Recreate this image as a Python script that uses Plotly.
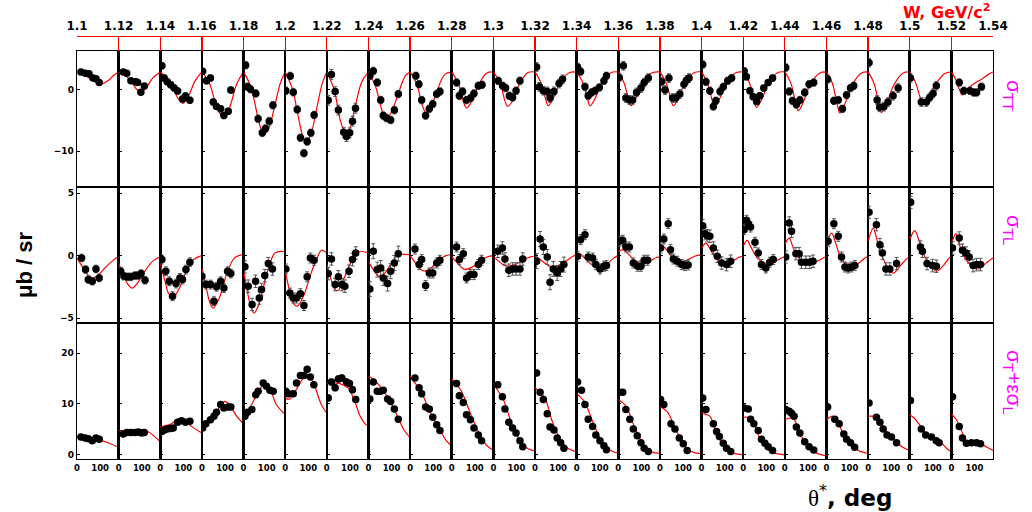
import plotly.graph_objects as go

# ---------------- data ----------------
W_TICKS = [1.10, 1.12, 1.14, 1.16, 1.18, 1.20, 1.22, 1.24, 1.26, 1.28, 1.30, 1.32,
           1.34, 1.36, 1.38, 1.40, 1.42, 1.44, 1.46, 1.48, 1.50, 1.52, 1.54]
W_LABELS = ["1.1", "1.12", "1.14", "1.16", "1.18", "1.2", "1.22", "1.24", "1.26", "1.28", "1.3", "1.32",
            "1.34", "1.36", "1.38", "1.4", "1.42", "1.44", "1.46", "1.48", "1.5", "1.52", "1.54"]

THETA_TICKS = [0, 100]
THETA_LABELS = ["0", "100"]

ROW_LABELS = ["σ<sub>TT</sub>", "σ<sub>TL</sub>", "σ<sub>T</sub>+εσ<sub>L</sub>"]
ROW_RANGES = [[-15.8, 6.3], [-5.4, 5.5], [-0.8, 25.9]]
ROW_TICKS = [[-10, 0], [-5, 0, 5], [0, 10, 20]]

# sigma_TT data points
TT_TH = [[17, 36, 52, 69, 82, 96], [20, 35, 53, 75, 82, 96, 111], [7, 17, 30, 45, 60, 75, 96, 109, 128],
         [3, 20, 37, 49, 63, 81, 95, 114, 125], [9, 17, 30, 53, 63, 81, 95, 111, 127],
         [3, 22, 35, 52, 66, 81, 95, 111, 125], [6, 20, 36, 50, 73, 85, 99, 111, 124],
         [6, 21, 38, 53, 64, 78, 96, 112, 129], [25, 38, 50, 67, 83, 98, 115, 129],
         [21, 33, 47, 64, 82, 96, 115, 131], [21, 40, 53, 69, 83, 98, 115],
         [7, 19, 36, 53, 65, 82, 104, 119], [4, 17, 36, 50, 65, 79, 98, 118, 129],
         [4, 22, 33, 48, 62, 79, 98, 112, 130], [7, 22, 39, 55, 69, 86, 104, 115, 126],
         [5, 19, 36, 51, 62, 80, 94, 113, 130], [4, 14, 29, 43, 58, 72, 89, 108, 127],
         [4, 19, 33, 50, 65, 86, 105, 125], [5, 32, 51, 69, 87, 104, 118],
         [4, 39, 50, 68, 86, 108, 130], [3, 50, 72, 86, 101, 115], [34, 54, 80, 97, 109, 130]]
TT_V = [[2.9, 2.7, 2.6, 1.9, 1.8, 1.2], [2.9, 2.7, 1.45, 1.3, 1.2, -0.4, 0.6],
        [3.9, 1.9, 1.3, 0.8, 0.3, -0.2, -1.5, -1.0, -1.7],
        [3.0, 1.45, 1.9, -2.0, -2.7, -3.1, -4.2, -3.5, -0.05],
        [4.0, 0.5, 0.1, -0.6, -4.7, -7.0, -6.3, -5.1, -2.5],
        [-0.15, 2.25, -0.4, -3.2, -7.8, -10.3, -8.4, -7.0, -4.1],
        [-1.7, 2.5, -0.3, -3.3, -6.9, -7.6, -7.0, -5.1, -3.0],
        [2.26, 3.06, 1.18, -1.67, -4.2, -4.6, -4.9, -3.3, -0.7],
        [2.26, 0.9, -1.67, -4.2, -3.1, -2.3, -0.7, -0.27],
        [1.18, -0.97, -0.27, -1.67, -1.34, -0.6, 0.65, 0.8],
        [1.45, 0.65, 0.27, -0.97, -1.24, -0.16, 1.45],
        [3.7, 0.48, -0.16, -0.27, -1.34, -0.27, 1.0, 1.7],
        [3.7, 2.96, 0.48, -0.97, -0.43, -0.16, 0.38, 1.45, 2.26],
        [2.0, 3.9, -1.34, -1.67, -1.67, -0.43, 0.27, 1.18, 1.9],
        [1.3, -0.05, 1.9, -1.34, -1.34, -0.7, 0.9, 1.56, 1.9],
        [4.1, 1.3, -0.16, -2.7, -1.8, -0.27, 0.48, 1.45, 1.9],
        [3.06, 2.1, -0.16, -1.13, -1.9, -0.97, 0.27, 1.18, 1.9],
        [3.6, -0.27, -1.8, -2.4, -1.67, -0.43, 0.9, 1.18],
        [1.7, -1.8, -1.67, -3.1, -0.86, 0.27, 0.65],
        [4.4, -1.67, -2.85, -2.74, -2.0, -0.97, 0.27],
        [1.9, -2.0, -2.0, -1.24, -0.6, 0.65],
        [1.18, -0.16, -0.16, -0.43, -0.43, 0.48]]
TT_E = [0.4, 0.4, 0.5, 0.5, 0.6, 0.6, 0.8, 0.6, 0.6, 0.6, 0.6, 0.7, 0.6, 0.7, 0.7, 0.6, 0.5, 0.6, 0.6, 0.7, 0.7, 0.6]

# sigma_TT model curves
TT_CTH = [[0, 30, 60, 90, 110, 135, 160, 180], [0, 30, 60, 80, 98, 120, 150, 180],
          [0, 30, 60, 80, 98, 120, 150, 180], [0, 30, 60, 80, 96, 120, 150, 180],
          [0, 30, 60, 75, 91, 110, 135, 160, 180], [0, 30, 60, 75, 91, 110, 135, 160, 180],
          [0, 30, 60, 75, 85, 100, 125, 150, 180], [0, 30, 60, 79, 100, 130, 160, 180],
          [0, 30, 50, 69, 90, 120, 150, 180], [0, 30, 50, 64, 85, 115, 150, 180],
          [0, 30, 50, 62, 85, 115, 150, 180], [0, 25, 45, 57, 80, 110, 150, 180],
          [0, 25, 45, 58, 80, 110, 150, 180], [0, 25, 45, 55, 80, 110, 150, 180],
          [0, 25, 45, 58, 80, 110, 150, 180], [0, 25, 45, 55, 80, 110, 150, 180],
          [0, 25, 45, 58, 80, 110, 150, 180], [0, 25, 45, 58, 80, 110, 150, 180],
          [0, 25, 45, 58, 80, 110, 150, 180], [0, 25, 45, 58, 80, 110, 150, 180],
          [0, 25, 45, 55, 80, 110, 150, 180], [0, 20, 35, 48, 70, 94, 130, 160, 180]]
TT_CV = [[2.9, 2.5, 1.7, 1.1, 1.0, 1.5, 2.4, 2.9], [2.9, 2.3, 1.0, 0.0, -0.4, 0.4, 2.0, 2.9],
         [2.9, 1.9, -0.2, -1.6, -2.2, -1.2, 1.4, 2.9], [2.9, 1.3, -2.3, -4.0, -4.6, -2.9, 0.9, 2.9],
         [2.9, 0.6, -4.1, -6.3, -7.2, -6.2, -2.6, 1.2, 2.9], [2.9, 0.3, -5.0, -7.4, -8.5, -7.4, -3.3, 1.0, 2.9],
         [2.9, 0.2, -5.2, -6.7, -7.0, -6.2, -2.4, 1.2, 2.9], [2.9, 0.6, -3.5, -4.6, -3.6, -0.5, 2.3, 2.9],
         [2.9, 0.8, -2.2, -3.7, -2.8, 0.2, 2.5, 2.9], [2.9, 0.9, -1.9, -2.95, -2.0, 0.7, 2.7, 2.9],
         [2.9, 1.0, -1.8, -2.7, -1.7, 1.1, 2.8, 2.9], [2.9, 1.2, -1.4, -2.6, -1.3, 1.3, 2.8, 2.9],
         [2.9, 1.3, -1.2, -2.6, -1.4, 1.2, 2.8, 2.9], [2.9, 1.1, -1.6, -2.6, -1.1, 1.4, 2.8, 2.9],
         [2.9, 1.3, -1.2, -2.6, -1.4, 1.2, 2.8, 2.9], [2.9, 1.1, -1.6, -2.7, -1.3, 1.3, 2.8, 2.9],
         [2.9, 1.3, -1.3, -2.85, -1.6, 1.1, 2.8, 2.9], [2.9, 1.2, -1.8, -3.4, -2.0, 0.9, 2.7, 2.9],
         [2.9, 1.1, -2.1, -3.8, -2.3, 0.7, 2.7, 2.9], [2.9, 1.1, -2.0, -3.7, -2.3, 0.7, 2.7, 2.9],
         [2.9, 1.2, -1.2, -1.9, -1.1, 0.8, 2.6, 2.9], [2.9, 1.6, 0.0, -0.85, 0.1, 0.9, 1.7, 2.5, 2.9]]

# sigma_TL data points
TL_TH = [[20, 37, 49, 66, 82, 96], [9, 23, 39, 53, 71, 85, 97, 114], [7, 24, 39, 53, 68, 85, 96, 111, 128],
         [0, 17, 37, 52, 63, 81, 95, 111, 125], [6, 20, 37, 52, 68, 78, 92, 107, 125],
         [3, 20, 35, 49, 66, 81, 95, 109, 125], [6, 20, 36, 50, 65, 78, 96, 111, 125],
         [6, 21, 38, 53, 64, 83, 96, 112, 129], [21, 39, 50, 67, 83, 98, 115, 129],
         [21, 33, 50, 64, 81, 96, 115, 129], [19, 39, 50, 67, 83, 98, 115, 127],
         [7, 22, 36, 53, 65, 79, 96, 111, 125], [4, 17, 36, 50, 69, 83, 101, 118, 129],
         [4, 19, 33, 48, 65, 84, 98, 112, 127], [3, 17, 36, 46, 58, 75, 94, 108, 122],
         [5, 15, 25, 36, 51, 68, 87, 108, 126], [4, 14, 22, 32, 51, 65, 79, 98, 115, 130],
         [4, 19, 29, 48, 62, 72, 91, 108, 122], [7, 32, 51, 65, 80, 94, 108, 123],
         [4, 36, 51, 62, 77, 94, 123], [4, 46, 55, 75, 98, 115], [5, 34, 48, 63, 77, 94, 109, 126]]
TL_V = [[-0.19, -1.12, -1.92, -2.05, -1.07, -1.79],
        [-1.25, -1.65, -1.7, -1.7, -1.6, -1.6, -1.44, -1.97],
        [-0.32, -1.25, -2.05, -3.25, -2.24, -1.79, -1.92, -1.12, -0.53],
        [-1.65, -2.32, -2.32, -3.65, -2.5, -2.05, -2.6, -1.25, -1.44],
        [-0.9, -2.45, -3.92, -2.05, -3.4, -2.72, -1.6, -0.64, -1.07],
        [-1.07, -3.0, -3.4, -3.4, -3.05, -4.0, -1.7, -0.19, -0.37],
        [-1.44, -0.27, -2.32, -1.7, -2.32, -2.45, -1.25, -0.32, 0.21],
        [-2.67, 0.35, -1.12, -0.99, -1.79, -2.24, -1.25, -0.59, 0.16],
        [0.53, -0.72, -0.32, -2.4, -1.39, -1.39, -0.59, -0.37],
        [0.69, -0.32, 0.16, -1.79, -1.52, -1.52, -0.72, -0.37],
        [0.35, 0.61, -0.27, -1.17, -1.07, -1.07, -1.07, -0.27],
        [-0.45, 1.33, 0.69, -0.11, -2.13, -1.07, -1.39, -1.07, -0.72],
        [-0.05, 1.28, 1.68, -0.11, -0.19, -0.72, -1.07, -0.85, -0.8],
        [1.15, 1.23, 0.69, 0.69, -0.59, -0.85, -0.85, -0.37, -0.37],
        [0.61, 1.33, 2.56, 0.48, -0.27, -0.45, -0.72, -0.8, -0.75],
        [2.4, 1.76, 1.6, 1.55, 0.61, -0.05, -0.59, -0.72, -0.45],
        [2.08, 2.83, 2.56, 2.29, 1.07, 0.21, -0.72, -0.99, -0.53, -0.32],
        [-0.11, 2.61, 1.95, 0.16, 0.16, -0.53, -0.53, -0.53, -0.45],
        [1.15, 2.56, 1.55, -0.11, -0.91, -0.99, -0.91, -0.8],
        [3.47, 2.48, 0.88, 0.21, -1.07, -1.07, -0.64],
        [4.27, 0.69, 0.35, -0.64, -0.8, -0.85],
        [0.61, 1.41, 0.43, 0.21, -0.11, -0.8, -0.72, -0.72]]
TL_E = [0.3, 0.3, 0.35, 0.35, 0.5, 0.4, 0.5, 0.6, 0.4, 0.4, 0.5, 0.6, 0.4, 0.4, 0.4, 0.5, 0.4, 0.5, 0.4, 0.5, 0.5, 0.5]

# sigma_TL model curves
TL_CTH = [[0, 20, 45, 68, 95, 125, 155, 180], [0, 20, 40, 60, 85, 115, 150, 180],
          [0, 20, 35, 53, 80, 110, 145, 180], [0, 20, 35, 49, 75, 105, 140, 180],
          [0, 20, 35, 46, 70, 100, 135, 165, 180], [0, 20, 35, 52, 80, 110, 140, 157, 180],
          [0, 20, 35, 49, 70, 100, 125, 145, 180], [0, 20, 35, 50, 75, 100, 129, 150, 180],
          [0, 20, 40, 64, 90, 129, 155, 180], [0, 20, 40, 57, 90, 122, 155, 180],
          [0, 20, 40, 64, 95, 130, 160, 180], [0, 25, 50, 72, 100, 135, 165, 180],
          [0, 14, 40, 70, 100, 130, 160, 180], [0, 22, 45, 65, 101, 135, 165, 180],
          [0, 17, 35, 58, 86, 115, 150, 180], [0, 19, 35, 51, 75, 101, 135, 166, 180],
          [0, 17, 33, 51, 80, 109, 140, 170, 180], [0, 19, 33, 50, 80, 108, 140, 170, 180],
          [0, 22, 40, 58, 85, 108, 140, 170, 180], [0, 22, 35, 50, 80, 108, 140, 170, 180],
          [0, 22, 40, 58, 85, 115, 145, 170, 180], [0, 19, 30, 44, 80, 116, 150, 175, 180]]
TL_CV = [[-0.2, -0.8, -1.5, -1.8, -1.5, -0.9, -0.4, -0.05], [-0.6, -1.5, -2.3, -2.6, -2.1, -1.2, -0.4, -0.1],
         [-0.7, -2.0, -3.0, -3.4, -2.7, -1.4, -0.3, 0.0], [-1.0, -2.7, -3.8, -4.2, -3.4, -1.6, -0.2, 0.1],
         [-1.1, -3.2, -4.3, -4.6, -3.7, -1.5, 0.2, 0.35, 0.3], [-1.2, -2.9, -3.8, -4.05, -3.2, -1.5, -0.1, 0.43, 0.2],
         [-0.7, -2.0, -2.7, -2.8, -2.0, -0.7, 0.2, 0.35, 0.2], [-0.45, -1.1, -1.5, -1.7, -1.3, -0.6, 0.08, 0.1, 0.08],
         [0.0, -0.5, -1.0, -1.25, -1.0, -0.3, 0.0, 0.08], [-0.1, -0.5, -0.9, -1.1, -0.9, -0.45, -0.1, 0.0],
         [-0.1, -0.4, -0.7, -0.85, -0.7, -0.35, -0.1, -0.05], [0.0, -0.35, -0.7, -0.9, -0.8, -0.4, -0.05, 0.08],
         [0.0, 0.15, -0.3, -0.8, -1.0, -0.7, -0.2, 0.0], [0.35, 0.45, 0.1, -0.3, -0.65, -0.45, -0.15, -0.1],
         [0.35, 0.7, 0.3, -0.2, -0.65, -0.4, -0.05, 0.08], [0.6, 1.0, 0.6, 0.08, -0.4, -0.6, -0.4, -0.1, -0.05],
         [0.75, 1.23, 0.7, 0.08, -0.5, -0.72, -0.45, -0.15, -0.1], [0.88, 1.41, 0.8, 0.08, -0.5, -0.72, -0.45, -0.15, -0.1],
         [0.88, 1.81, 1.0, 0.0, -0.7, -1.0, -0.6, -0.15, -0.1], [1.15, 2.2, 1.5, 0.48, -0.8, -1.4, -0.8, -0.2, -0.1],
         [1.28, 2.0, 1.2, 0.2, -0.7, -1.25, -0.8, -0.2, -0.1], [0.88, 1.76, 1.2, 0.35, -0.72, -1.07, -0.6, -0.25, -0.2]]

# sigma_T + eps*sigma_L data points
SU_TH = [[17, 35, 49, 66, 82, 96], [20, 35, 53, 71, 85, 99, 111], [7, 17, 30, 45, 56, 75, 92, 109, 128],
         [3, 17, 37, 52, 63, 81, 95, 114, 125], [6, 17, 36, 53, 63, 85, 99, 114, 128],
         [3, 14, 35, 49, 66, 81, 95, 109, 124], [6, 20, 36, 50, 65, 85, 98, 111, 125],
         [6, 21, 38, 53, 64, 83, 96, 112, 129], [21, 39, 50, 67, 83, 98, 115, 129],
         [21, 33, 50, 64, 81, 96, 115, 129], [19, 39, 50, 67, 83, 98, 115, 127],
         [7, 22, 36, 53, 65, 82, 96, 111, 125], [4, 21, 36, 50, 69, 83, 101, 118, 129],
         [4, 19, 33, 50, 65, 82, 98, 112, 130], [3, 17, 48, 65, 84, 101, 118],
         [5, 19, 51, 65, 77, 94, 108, 126], [4, 22, 32, 46, 65, 79, 94, 108, 127],
         [4, 19, 29, 40, 50, 65, 86, 105, 125], [5, 36, 55, 75, 87, 104, 122],
         [4, 36, 51, 65, 82, 101, 123], [3, 50, 69, 94, 115, 127], [5, 34, 48, 65, 87, 109, 126]]
SU_V = [[3.5, 3.3, 3.2, 2.8, 3.3, 3.1], [4.1, 4.4, 4.4, 4.4, 4.5, 4.3, 4.4],
        [4.6, 4.9, 5.1, 5.2, 5.3, 6.4, 6.7, 6.4, 6.6], [5.3, 6.1, 6.9, 7.6, 8.4, 9.9, 9.2, 9.4, 9.4],
        [7.6, 8.4, 8.9, 11.8, 12.5, 14.1, 13.5, 12.7, 12.5],
        [12.5, 12.0, 12.0, 14.1, 15.6, 15.6, 16.8, 15.3, 13.8],
        [11.2, 14.3, 13.2, 14.9, 15.1, 14.3, 14.0, 12.8, 10.9],
        [11.0, 14.3, 12.5, 12.5, 12.7, 11.0, 10.5, 9.0, 7.0],
        [15.1, 13.2, 12.0, 9.4, 9.0, 7.4, 5.9, 4.8], [14.0, 11.6, 10.3, 7.9, 6.9, 5.3, 3.9, 2.8],
        [13.8, 11.4, 9.0, 6.4, 5.3, 4.3, 2.8, 1.6], [16.1, 12.3, 10.9, 8.1, 5.5, 4.9, 3.3, 2.4, 1.3],
        [14.3, 12.7, 9.9, 7.0, 5.6, 3.9, 2.8, 1.8, 1.0], [12.3, 12.3, 8.9, 7.0, 5.1, 3.75, 2.4, 1.3, 0.66],
        [10.9, 9.9, 6.1, 5.1, 3.3, 2.2, 0.86], [11.2, 8.9, 6.1, 4.6, 3.6, 2.3, 1.3, 0.66],
        [9.2, 9.0, 7.0, 6.1, 4.8, 3.1, 2.3, 1.6, 0.86], [8.9, 8.55, 8.2, 7.6, 5.5, 4.3, 2.6, 1.6, 0.99],
        [9.4, 7.0, 6.1, 4.1, 3.1, 2.4, 1.5], [10.2, 7.4, 6.4, 5.1, 3.9, 3.5, 2.4],
        [10.7, 5.1, 3.9, 3.5, 2.8, 2.4], [11.4, 5.6, 3.3, 2.3, 2.4, 2.4, 2.2]]
SU_E = [0.3, 0.3, 0.3, 0.3, 0.4, 0.4, 0.6, 0.4, 0.4, 0.4, 0.4, 0.5, 0.4, 0.4, 0.4, 0.3, 0.3, 0.3, 0.3, 0.3, 0.3, 0.3]

# sigma_T + eps*sigma_L model curves
SU_CTH = [[0, 60, 100, 140, 180], [0, 50, 100, 130, 155, 180], [0, 48, 78, 107, 135, 180],
          [0, 25, 49, 75, 99, 120, 150, 180], [0, 20, 42, 70, 95, 115, 140, 165, 180],
          [0, 20, 35, 60, 92, 110, 128, 155, 180], [0, 35, 56, 92, 121, 142, 171, 180],
          [0, 25, 50, 93, 129, 155, 180], [0, 20, 43, 86, 129, 160, 180], [0, 20, 42, 86, 129, 160, 180],
          [0, 20, 43, 79, 122, 150, 180], [0, 20, 43, 72, 115, 145, 180], [0, 18, 36, 72, 115, 145, 180],
          [0, 18, 36, 72, 115, 145, 180], [0, 18, 36, 72, 115, 145, 180], [0, 18, 36, 72, 108, 140, 180],
          [0, 18, 36, 72, 108, 140, 180], [0, 18, 36, 72, 108, 140, 180], [0, 29, 50, 72, 115, 145, 180],
          [0, 36, 60, 79, 122, 150, 180], [0, 20, 43, 79, 115, 137, 166, 180],
          [0, 20, 37, 65, 94, 123, 150, 180]]
SU_CV = [[3.6, 3.2, 2.9, 2.3, 1.5], [4.8, 4.8, 4.85, 4.5, 3.6, 2.6], [5.5, 6.1, 7.1, 6.8, 5.6, 4.3],
         [5.1, 6.2, 7.6, 9.3, 10.5, 9.8, 7.6, 6.1], [7.4, 8.6, 10.5, 12.8, 14.1, 13.0, 10.0, 8.6, 8.0],
         [11.05, 11.0, 11.8, 13.8, 15.8, 15.2, 13.5, 10.0, 8.2], [14.1, 14.1, 14.0, 13.1, 10.5, 7.8, 5.9, 5.8],
         [15.5, 14.7, 13.5, 10.5, 7.2, 4.8, 3.4], [15.5, 14.2, 12.8, 8.55, 4.9, 2.6, 1.8],
         [14.9, 13.9, 12.5, 7.6, 3.3, 1.5, 1.0], [14.1, 12.6, 10.9, 6.25, 2.3, 1.2, 0.8],
         [13.2, 12.3, 11.2, 6.9, 2.6, 1.2, 0.6], [12.0, 11.3, 10.3, 6.25, 2.17, 0.9, 0.3],
         [10.9, 10.3, 9.4, 5.3, 1.65, 0.6, 0.3], [9.4, 9.0, 8.2, 4.6, 1.3, 0.5, 0.3],
         [8.2, 8.0, 7.6, 3.6, 1.0, 0.3, 0.0], [7.4, 7.4, 7.2, 3.3, 1.0, 0.3, 0.0],
         [6.9, 7.2, 7.2, 3.6, 1.3, 0.3, -0.2], [6.9, 7.6, 6.3, 4.3, 1.65, 0.7, 0.3],
         [7.6, 7.4, 5.9, 4.6, 2.6, 1.5, 0.9], [7.9, 7.2, 5.9, 3.9, 3.3, 2.4, 1.0, 0.7],
         [8.1, 7.0, 5.6, 2.6, 2.2, 2.3, 1.6, 0.9]]

ROWS = [(TT_TH, TT_V, TT_E, TT_CTH, TT_CV),
        (TL_TH, TL_V, TL_E, TL_CTH, TL_CV),
        (SU_TH, SU_V, SU_E, SU_CTH, SU_CV)]

# ---------------- layout geometry (pixels) ----------------
FIG_W, FIG_H = 1032, 512
L, R, T, B = 77, 993, 37, 459          # plot area incl. top W axis line
PANEL_TOP = 51
NCOL = 22
ROW_PX = [(51, 187), (187, 323), (323, 459)]


def py(y):
    return (B - y) / (B - T)


def px(x):
    return (x - L) / (R - L)


FONT = "Liberation Sans"
WIDE = "DejaVu Sans"
fig = go.Figure()
layout = dict(
    width=FIG_W, height=FIG_H,
    margin=dict(l=L, r=FIG_W - R, t=T, b=FIG_H - B, pad=0),
    paper_bgcolor="white", plot_bgcolor="rgba(0,0,0,0)",
    showlegend=False, hovermode=False,
    font=dict(family=FONT, color="black"),
)

# top W axis: a thin strip above the panels; red grid lines act as the tick marks
kw = 3 * NCOL + 1
fig.add_trace(go.Scatter(x=[W_TICKS[0], W_TICKS[-1]], y=[0, 0], mode="markers", marker=dict(opacity=0),
                         xaxis=f"x{kw}", yaxis=f"y{kw}", hoverinfo="skip"))
layout[f"xaxis{kw}"] = dict(domain=[0, 1], anchor=f"y{kw}", side="top",
                            range=[W_TICKS[0], W_TICKS[-1]], tickvals=W_TICKS, ticktext=W_LABELS,
                            ticks="", showgrid=True, gridcolor="#ff0000", gridwidth=1.3,
                            showline=True, linecolor="#ff0000", linewidth=1.3,
                            zeroline=False, ticklabelstandoff=1,
                            tickfont=dict(family=WIDE, size=12, color="black", weight="bold"))
layout[f"yaxis{kw}"] = dict(domain=[py(PANEL_TOP), 1], anchor=f"x{kw}", visible=False, range=[-1, 1],
                            showgrid=False, zeroline=False)

for r in range(3):
    TH, V, E, CTH, CV = ROWS[r]
    for c in range(NCOL):
        k = r * NCOL + c + 1
        xa = "x" if k == 1 else f"x{k}"
        ya = "y" if k == 1 else f"y{k}"
        fig.add_trace(go.Scatter(x=CTH[c], y=CV[c], mode="lines",
                                 line=dict(color="#ff0000", width=1.2, shape="spline", smoothing=1.0),
                                 xaxis=xa, yaxis=ya, hoverinfo="skip"))
        fig.add_trace(go.Scatter(x=TH[c], y=V[c], mode="markers",
                                 marker=dict(color="black", size=7.5, symbol="circle"),
                                 error_y=dict(type="constant", value=E[c], color="#555555", thickness=1, width=2),
                                 xaxis=xa, yaxis=ya))
        y0, y1 = ROW_PX[r]
        xk = "xaxis" if k == 1 else f"xaxis{k}"
        yk = "yaxis" if k == 1 else f"yaxis{k}"
        layout[xk] = dict(domain=[c / NCOL, (c + 1) / NCOL], anchor=ya, range=[0, 180],
                          showgrid=False, zeroline=False, showline=True, mirror=True,
                          linecolor="black", linewidth=1.3,
                          tickvals=THETA_TICKS, ticktext=THETA_LABELS, ticks="",
                          showticklabels=(r == 2),
                          tickfont=dict(family=WIDE, size=8.5, color="black", weight="bold"))
        layout[yk] = dict(domain=[py(y1), py(y0)], anchor=xa, range=ROW_RANGES[r],
                          showgrid=False, zeroline=False, showline=True, mirror=True,
                          linecolor="black", linewidth=1.3,
                          tickvals=ROW_TICKS[r], ticks="inside", ticklen=3, tickcolor="black",
                          showticklabels=(c == 0),
                          tickfont=dict(family=WIDE, size=9, color="black", weight="bold"))

ann = []
ann.append(dict(text="<b>W, GeV/c<sup>2</sup></b>", x=px(992), y=py(11.5), xref="paper", yref="paper",
                xanchor="right", yanchor="middle", showarrow=False,
                font=dict(family=WIDE, size=16, color="#ff0000")))
label_y = [95, 230, 382]
for r in range(3):
    ann.append(dict(text=ROW_LABELS[r], x=px(1013), y=py(label_y[r]), xref="paper", yref="paper",
                    xanchor="center", yanchor="middle", showarrow=False, textangle=90,
                    font=dict(family=FONT, size=21, color="#ff00ff")))
ann.append(dict(text="<b>μb / sr</b>", x=px(24), y=py(265), xref="paper", yref="paper",
                xanchor="center", yanchor="middle", showarrow=False, textangle=-90,
                font=dict(family=FONT, size=22, color="black")))
ann.append(dict(text="<span style='font-family:Liberation Serif'>θ</span><sup>*</sup><b>, deg</b>",
                x=px(850), y=py(496), xref="paper", yref="paper",
                xanchor="center", yanchor="middle", showarrow=False,
                font=dict(family=WIDE, size=23, color="black")))
layout["annotations"] = ann

fig.update_layout(**layout)
fig.write_html("out.html", config={"displayModeBar": False, "staticPlot": True},
               post_script="document.body.style.margin='0';document.body.style.padding='0';"
                           "document.documentElement.style.overflow='hidden';")
